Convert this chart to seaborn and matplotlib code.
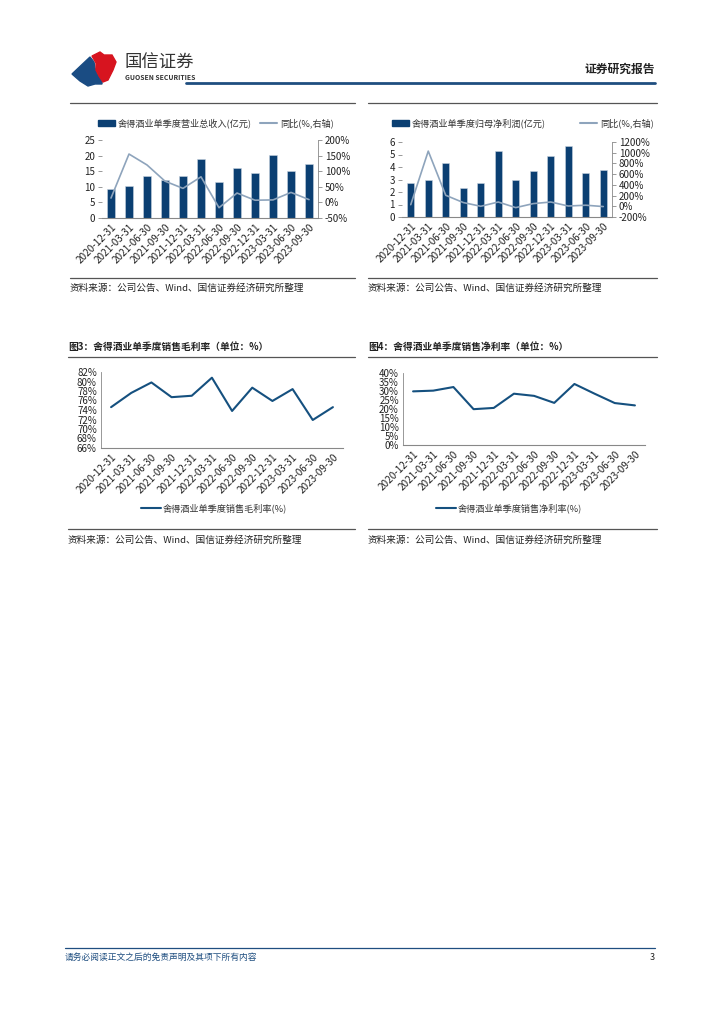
import matplotlib
matplotlib.use('Agg')
import matplotlib.pyplot as plt
import matplotlib.patches as mpatches
from matplotlib.lines import Line2D
import numpy as np
import pandas as pd
import seaborn as sns

# data
quarters = ['2020-12-31', '2021-03-31', '2021-06-30', '2021-09-30',
            '2021-12-31', '2022-03-31', '2022-06-30', '2022-09-30',
            '2022-12-31', '2023-03-31', '2023-06-30', '2023-09-30']
revenue = [9.3, 10.3, 13.6, 12.1, 13.5, 18.9, 11.5, 15.9, 14.4, 20.3, 15.1, 17.4]
revenue_yoy = [14, 155, 120, 68, 45, 82, -17, 30, 7, 8, 32, 9]
profit = [2.7, 3.0, 4.3, 2.3, 2.7, 5.25, 3.0, 3.65, 4.85, 5.7, 3.5, 3.75]
profit_yoy = [30, 1030, 205, 70, 0, 80, -25, 50, 80, 5, 20, -5]
gross_margin = [74.6, 77.6, 79.8, 76.7, 77.0, 80.8, 73.8, 78.7, 75.9, 78.4, 71.9, 74.6]
net_margin = [29.8, 30.2, 32.2, 19.9, 20.6, 28.5, 27.3, 23.4, 33.9, 28.5, 23.3, 22.0]

rev_label = '舍得酒业单季度营业总收入(亿元)'
prof_label = '舍得酒业单季度归母净利润(亿元)'
yoy_label = '同比(%,右轴)'
gm_label = '舍得酒业单季度销售毛利率(%)'
nm_label = '舍得酒业单季度销售净利率(%)'
source = '资料来源：公司公告、Wind、国信证券经济研究所整理'

BAR = '#0B3F72'
YOY = '#8EA4BC'
LINE = '#15507F'

sns.set_style('white')
plt.rcParams['font.family'] = ['Noto Sans CJK SC', 'DejaVu Sans']
plt.rcParams['axes.unicode_minus'] = False

W, H = 724, 1024
fig = plt.figure(figsize=(W / 100, H / 100), dpi=100)


def box(l, t, r, b):
    return [l / W, 1 - b / H, (r - l) / W, (b - t) / H]


def hline(x0, x1, y, color='#404040', lw=1.0):
    fig.add_artist(Line2D([x0 / W, x1 / W], [1 - y / H, 1 - y / H],
                          color=color, lw=lw, transform=fig.transFigure))


def txt(x, y, s, **kw):
    fig.text(x / W, 1 - y / H, s, **kw)


def poly(pts, color):
    fig.add_artist(mpatches.Polygon([(x / W, 1 - y / H) for x, y in pts],
                                    closed=True, color=color,
                                    transform=fig.transFigure))


def style_cat_axis(ax, n):
    ax.set_xlim(-0.5, n - 0.5)
    ax.set_xticks(range(n))
    ax.set_xticklabels(quarters, rotation=45, ha='right', va='top',
                       rotation_mode='anchor', fontsize=7.2, color='#222222')
    ax.tick_params(axis='x', which='major', length=0, pad=3)
    ax.set_xticks(np.arange(-0.5, n, 1.0), minor=True)
    ax.tick_params(axis='x', which='minor', length=3, color='#888888', width=0.6)
    ax.set_xlabel('')
    ax.set_ylabel('')
    for s in ['top', 'right', 'left']:
        ax.spines[s].set_visible(False)
    ax.spines['bottom'].set_color('#888888')
    ax.spines['bottom'].set_linewidth(0.8)
    ax.tick_params(axis='y', labelsize=7, length=3, color='#888888',
                   width=0.6, pad=2, labelcolor='#222222', left=True)


def bar_chart(rect, vals, yoy, ylim, ystep, rlim, rstep, leg_text, leg_pos):
    ax = fig.add_axes(box(*rect))
    df = pd.DataFrame({'q': quarters, 'v': vals})
    sns.barplot(data=df, x='q', y='v', ax=ax, color=BAR, width=0.42,
                saturation=1, edgecolor='#C8D3DF', linewidth=0.4)
    style_cat_axis(ax, len(quarters))
    ax.set_ylim(*ylim)
    yt = np.arange(ylim[0], ylim[1] + 0.01, ystep)
    ax.set_yticks(yt)
    ax.set_yticklabels([f'{v:g}' for v in yt])
    ax2 = ax.twinx()
    sns.lineplot(x=np.arange(len(yoy)), y=yoy, ax=ax2, color=YOY, lw=1.2)
    ax2.set_ylim(*rlim)
    rt = np.arange(rlim[0], rlim[1] + 1, rstep)
    ax2.set_yticks(rt)
    ax2.set_yticklabels([f'{v:g}%' for v in rt])
    for s in ['top', 'left', 'bottom']:
        ax2.spines[s].set_visible(False)
    ax2.spines['right'].set_color('#888888')
    ax2.spines['right'].set_linewidth(0.6)
    ax2.tick_params(axis='y', labelsize=7, length=3, color='#888888',
                    width=0.6, pad=2, labelcolor='#222222', right=True)
    ax2.set_ylabel('')
    # legend
    lx, ly, lx2 = leg_pos
    fig.add_artist(mpatches.Rectangle((lx / W, 1 - (ly + 3) / H), 17 / W, 6 / H,
                                      color=BAR, transform=fig.transFigure))
    txt(lx + 20, ly, leg_text, fontsize=6.6, va='center', color='#333333')
    fig.add_artist(Line2D([lx2 / W, (lx2 + 17) / W], [1 - ly / H, 1 - ly / H],
                          color=YOY, lw=1.5, transform=fig.transFigure))
    txt(lx2 + 20, ly, yoy_label, fontsize=6.6, va='center', color='#333333')


def line_chart(rect, vals, ylim, ystep, leg_text, leg_pos):
    ax = fig.add_axes(box(*rect))
    df = pd.DataFrame({'q': quarters, 'v': vals})
    sns.lineplot(data=df, x='q', y='v', ax=ax, color=LINE, lw=1.5, sort=False)
    style_cat_axis(ax, len(quarters))
    ax.spines['left'].set_visible(True)
    ax.spines['left'].set_color('#888888')
    ax.spines['left'].set_linewidth(0.6)
    ax.set_ylim(*ylim)
    yt = np.arange(ylim[0], ylim[1] + 0.01, ystep)
    ax.set_yticks(yt)
    ax.set_yticklabels([f'{v:g}%' for v in yt])
    ax.tick_params(axis='y', length=0, pad=3)
    lx, ly = leg_pos
    fig.add_artist(Line2D([lx / W, (lx + 20) / W], [1 - ly / H, 1 - ly / H],
                          color=LINE, lw=1.5, transform=fig.transFigure))
    txt(lx + 22, ly, leg_text, fontsize=6.6, va='center', color='#333333')


# header logo
poly([(72, 74), (90, 57), (94, 62), (95, 68), (97, 74), (102, 80), (102, 84),
      (95, 84), (88, 86), (80, 81)], '#1A4C83')
poly([(92, 56), (100, 52), (104, 55), (112, 55), (116, 62), (113, 70),
      (108, 80), (103, 82), (99, 76), (96, 70), (96, 63)], '#D7141F')
txt(125, 63, '国信证券', fontsize=12.5, va='center', color='#333333')
txt(125, 78, 'GUOSEN SECURITIES', fontsize=4.9, va='center', color='#333333',
    fontweight='bold')
txt(655, 69, '证券研究报告', fontsize=8.5, va='center', ha='right',
    color='#222222', fontweight='bold')
hline(186, 655, 83, color='#1F4E80', lw=2.0)

# chart 1 and 2
hline(70, 355, 103, color='#555555', lw=0.9)
hline(368, 657, 103, color='#555555', lw=0.9)
bar_chart((102, 140, 318, 218), revenue, revenue_yoy, (0, 25), 5, (-50, 200), 50,
          rev_label, (98, 123, 260))
bar_chart((402, 142, 612, 217), profit, profit_yoy, (0, 6), 1, (-200, 1200), 200,
          prof_label, (392, 123, 580))
hline(70, 355, 278, color='#555555', lw=0.9)
hline(368, 657, 278, color='#555555', lw=0.9)
txt(70, 288, source, fontsize=6.9, va='center', color='#222222')
txt(368, 288, source, fontsize=6.9, va='center', color='#222222')

# chart 3 and 4
txt(68, 347, '图3：舍得酒业单季度销售毛利率（单位：%）', fontsize=7, va='center',
    color='#222222', fontweight='bold')
txt(368, 347, '图4：舍得酒业单季度销售净利率（单位：%）', fontsize=7, va='center',
    color='#222222', fontweight='bold')
hline(68, 355, 357, color='#555555', lw=0.9)
hline(368, 657, 357, color='#555555', lw=0.9)
line_chart((101, 372, 343, 448), gross_margin, (66, 82), 2, gm_label, (141, 508))
line_chart((403, 373, 645, 445), net_margin, (0, 40), 5, nm_label, (436, 508))
hline(68, 355, 529, color='#555555', lw=0.9)
hline(368, 657, 529, color='#555555', lw=0.9)
txt(68, 540, source, fontsize=6.9, va='center', color='#222222')
txt(368, 540, source, fontsize=6.9, va='center', color='#222222')

# footer
hline(65, 655, 948, color='#1F4E80', lw=0.9)
txt(65, 957, '请务必阅读正文之后的免责声明及其项下所有内容', fontsize=6.3,
    va='center', color='#1F4E80', style='italic')
txt(655, 958, '3', fontsize=6.5, va='center', ha='right', color='#222222')

fig.savefig('out.png', dpi=100)
